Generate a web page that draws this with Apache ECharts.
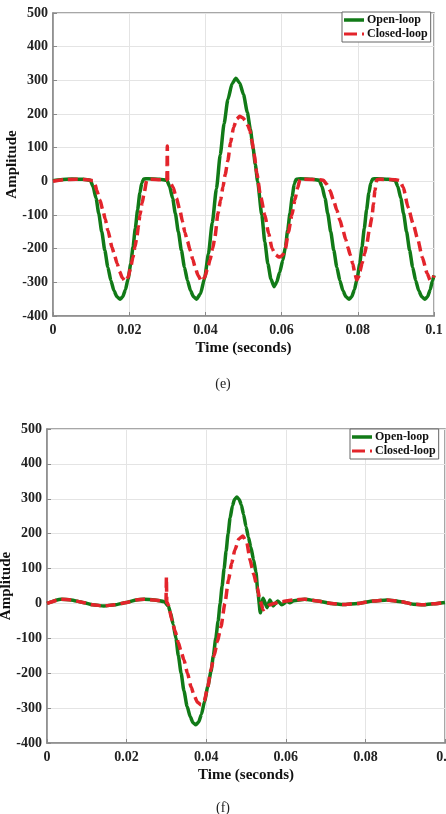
<!DOCTYPE html>
<html>
<head>
<meta charset="utf-8">
<script src="https://cdn.jsdelivr.net/npm/echarts@6/dist/echarts.min.js"></script>
<style>
  html, body { margin: 0; padding: 0; background: #fff; }
  #main { width: 446px; height: 814px; }
</style>
</head>
<body>
<div id="main"></div>
<script>
// ---- data: [time (s), amplitude] ----
var openLoopE = [
  [0, 2], [0.002, 5], [0.005, 7], [0.008, 6], [0.0098, 3], [0.0105, -15], [0.0113, -50], [0.012, -95],
  [0.0128, -150], [0.0136, -205], [0.0144, -255], [0.0152, -295], [0.016, -325], [0.0168, -343], [0.0176, -350],
  [0.0183, -343], [0.019, -322], [0.0197, -290], [0.0204, -245], [0.021, -195], [0.0216, -140], [0.0222, -85],
  [0.0228, -35], [0.0233, -5], [0.0238, 7], [0.025, 8], [0.028, 6], [0.0299, 3], [0.0306, -15], [0.0314, -50],
  [0.0321, -95], [0.0329, -150], [0.0337, -205], [0.0345, -255], [0.0353, -295], [0.0361, -325], [0.0369, -343],
  [0.0377, -350], [0.0387, -334], [0.0398, -287], [0.0408, -215], [0.0418, -123], [0.0429, -22], [0.0439, 79],
  [0.0449, 171], [0.0459, 243], [0.047, 290], [0.048, 306], [0.049, 292], [0.05, 258], [0.051, 205],
  [0.0518, 155], [0.0525, 100], [0.0531, 50], [0.0537, 0], [0.0548, -100], [0.0556, -180], [0.0564, -245],
  [0.0572, -290], [0.058, -313], [0.0587, -300], [0.0595, -270], [0.0603, -235], [0.061, -195], [0.0616, -145],
  [0.0622, -95], [0.0628, -45], [0.0633, -8], [0.0638, 6], [0.065, 8], [0.068, 6], [0.0699, 3], [0.0706, -15],
  [0.0714, -50], [0.0721, -95], [0.0729, -150], [0.0737, -205], [0.0745, -255], [0.0753, -295], [0.0761, -325],
  [0.0769, -343], [0.0777, -350], [0.0784, -343], [0.0791, -322], [0.0798, -290], [0.0805, -245], [0.0811, -195],
  [0.0817, -140], [0.0823, -85], [0.0829, -35], [0.0834, -5], [0.0839, 7], [0.085, 8], [0.088, 6], [0.0898, 3],
  [0.0905, -15], [0.0913, -50], [0.092, -95], [0.0928, -150], [0.0936, -205], [0.0944, -255], [0.0952, -295],
  [0.096, -325], [0.0968, -343], [0.0976, -350], [0.0983, -343], [0.099, -322], [0.0996, -295], [0.1, -279]
];
var closedLoopE = [
  [0, 0], [0.003, 5], [0.006, 6], [0.009, 5], [0.0105, 2], [0.011, -8], [0.0115, -27], [0.0123, -55],
  [0.0131, -86], [0.0137, -112], [0.0144, -145], [0.0155, -196], [0.0162, -222], [0.0168, -243], [0.0175, -268],
  [0.0182, -287], [0.019, -297], [0.0197, -285], [0.0203, -260], [0.021, -225], [0.0215, -196], [0.022, -166],
  [0.0224, -135], [0.0228, -101], [0.0234, -65], [0.0239, -36], [0.0246, 3], [0.0255, 6], [0.0299, 4],
  [0.03, 105], [0.0301, 4], [0.0308, -5], [0.0315, -17], [0.0324, -50], [0.0333, -86], [0.034, -120],
  [0.0346, -151], [0.0353, -178], [0.036, -205], [0.0367, -232], [0.0373, -255], [0.0381, -280], [0.039, -297],
  [0.0398, -285], [0.0405, -262], [0.0412, -234], [0.0419, -200], [0.0425, -166], [0.0433, -95], [0.044, -55],
  [0.0446, -17], [0.0452, 20], [0.0459, 62], [0.0466, 115], [0.0474, 160], [0.0482, 185], [0.049, 193],
  [0.0498, 189], [0.0505, 180], [0.0512, 165], [0.0517, 150], [0.0522, 120], [0.0528, 80], [0.0535, 24],
  [0.0545, -45], [0.0556, -100], [0.0566, -155], [0.0575, -200], [0.0584, -218], [0.0593, -225], [0.06, -222],
  [0.0605, -215], [0.061, -200], [0.0618, -150], [0.0627, -100], [0.0635, -55], [0.0642, -20], [0.0648, 5],
  [0.0655, 6], [0.07, 5], [0.071, 3], [0.0718, -8], [0.0727, -27], [0.0736, -55], [0.0745, -86], [0.0753, -115],
  [0.0761, -145], [0.0768, -172], [0.0774, -196], [0.078, -218], [0.0787, -245], [0.0792, -272], [0.0797, -293],
  [0.0802, -285], [0.0806, -266], [0.0811, -244], [0.0818, -215], [0.0824, -184], [0.083, -145], [0.0837, -107],
  [0.0841, -68], [0.0845, -27], [0.085, 5], [0.0858, 6], [0.09, 5], [0.091, 2], [0.0919, -17], [0.0932, -77],
  [0.0945, -125], [0.0958, -175], [0.0969, -225], [0.0982, -273], [0.099, -294], [0.0996, -290], [0.1, -280]
];
var openLoopF = [
  [0, 0], [0.0035, 12], [0.006, 10], [0.009, 3], [0.0115, -4], [0.0143, -7], [0.017, -4], [0.02, 3],
  [0.0225, 10], [0.0244, 12], [0.027, 10], [0.0295, 5], [0.0305, -8], [0.031, -25], [0.0317, -60],
  [0.0324, -100], [0.033, -150], [0.0337, -200], [0.0344, -250], [0.0352, -295], [0.036, -325], [0.0367, -342],
  [0.0374, -348], [0.0381, -340], [0.0388, -318], [0.0396, -280], [0.0404, -238], [0.0412, -195], [0.0418, -150],
  [0.0424, -100], [0.043, -50], [0.0435, 0], [0.044, 50], [0.0445, 100], [0.045, 150], [0.0455, 200],
  [0.046, 245], [0.0466, 280], [0.0471, 298], [0.0477, 305], [0.0483, 298], [0.0488, 283], [0.0494, 255],
  [0.05, 220], [0.0506, 190], [0.0512, 162], [0.0519, 125], [0.0525, 90], [0.053, 30], [0.0536, -27],
  [0.0543, 15], [0.0553, -12], [0.056, 10], [0.0568, -7], [0.058, 7], [0.059, -4], [0.0603, 6], [0.061, 2],
  [0.062, 8], [0.0648, 12], [0.068, 7], [0.0715, 0], [0.0744, -3], [0.078, 0], [0.082, 7], [0.0854, 10],
  [0.089, 5], [0.092, -2], [0.0945, -4], [0.097, -1], [0.1, 3]
];
var closedLoopF = [
  [0, 0], [0.0035, 12], [0.006, 10], [0.009, 3], [0.0115, -4], [0.0143, -7], [0.017, -4], [0.02, 3],
  [0.0225, 10], [0.0244, 12], [0.027, 10], [0.0299, 5], [0.03, 75], [0.0301, 5], [0.0305, -5], [0.0314, -48],
  [0.0322, -80], [0.033, -112], [0.0337, -138], [0.0344, -162], [0.0353, -200], [0.0362, -239], [0.037, -265],
  [0.0378, -283], [0.0387, -291], [0.0395, -280], [0.0403, -245], [0.0412, -190], [0.042, -150], [0.0428, -110],
  [0.0437, -67], [0.0447, 0], [0.0456, 67], [0.0464, 115], [0.0472, 153], [0.0482, 185], [0.0492, 193],
  [0.0502, 175], [0.051, 125], [0.0519, 85], [0.0528, 47], [0.0535, 10], [0.0543, -18], [0.055, -12],
  [0.0557, -5], [0.057, 0], [0.059, 5], [0.062, 10], [0.0648, 12], [0.068, 7], [0.0715, 0], [0.0744, -3],
  [0.078, 0], [0.082, 7], [0.0854, 10], [0.089, 5], [0.092, -2], [0.0945, -4], [0.097, -1], [0.1, 3]
];
var seriesNames = ['Open-loop', 'Closed-loop'];
var captions = ['(e)', '(f)'];
var timeTicks = { min: 0, max: 0.1, step: 0.02 };
var ampTicks = { min: -400, max: 500, step: 100 };

var FONT = '"Liberation Serif", "DejaVu Serif", serif';
var GREEN = '#117a17';
var RED = '#e3242b';

function xAxisFor(gridIndex) {
  return {
    gridIndex: gridIndex, type: 'value',
    min: timeTicks.min, max: timeTicks.max, interval: timeTicks.step,
    name: 'Time (seconds)', nameLocation: 'middle', nameGap: 25, nameMoveOverlap: false,
    nameTextStyle: { fontFamily: FONT, fontWeight: 'bold', fontSize: 15, color: '#111' },
    axisLine: { onZero: false, lineStyle: { color: '#8a8a8a', width: 1.5 } },
    axisTick: { inside: true, length: 4, lineStyle: { color: '#8a8a8a' } },
    axisLabel: {
      fontFamily: FONT, fontWeight: 'bold', fontSize: 14, color: '#222', margin: 7,
      hideOverlap: false, showMaxLabel: true,
      formatter: function (v) { return v === 0 ? '0' : String(+v.toFixed(2)); }
    },
    splitLine: { show: true, lineStyle: { color: '#e4e4e4', width: 1 } }
  };
}
function yAxisFor(gridIndex) {
  return {
    gridIndex: gridIndex, type: 'value',
    min: ampTicks.min, max: ampTicks.max, interval: ampTicks.step,
    name: 'Amplitude', nameLocation: 'middle', nameGap: 33, nameMoveOverlap: false,
    nameTextStyle: { fontFamily: FONT, fontWeight: 'bold', fontSize: 15, color: '#111' },
    axisLine: { show: true, onZero: false, lineStyle: { color: '#8a8a8a', width: 1.5 } },
    axisTick: { show: true, inside: true, length: 4, lineStyle: { color: '#8a8a8a' } },
    axisLabel: { fontFamily: FONT, fontWeight: 'bold', fontSize: 14, color: '#222', margin: 5 },
    splitLine: { show: true, lineStyle: { color: '#e4e4e4', width: 1 } }
  };
}
function lineSeries(name, data, idx, dashed) {
  return {
    name: name, type: 'line', xAxisIndex: idx, yAxisIndex: idx,
    data: data, showSymbol: false, symbol: 'none', animation: false,
    smooth: 0.2, smoothMonotone: 'x',
    lineStyle: dashed
      ? { color: RED, width: 3.5, type: [10, 5] }
      : { color: GREEN, width: 3.5 },
    itemStyle: { color: dashed ? RED : GREEN }
  };
}
function legendFor(left, top) {
  return {
    data: [
      { name: seriesNames[0], icon: 'rect', itemStyle: { color: GREEN } },
      { name: seriesNames[1], icon: 'path://M0,0 H13 V3 H0 Z M18,0 H20 V3 H18 Z', itemStyle: { color: RED } }
    ],
    orient: 'vertical', left: left, top: top,
    itemWidth: 20, itemHeight: 3.5, itemGap: 2, padding: [2, 3, 2, 2],
    backgroundColor: '#fff', borderColor: '#666', borderWidth: 1,
    selectedMode: false,
    textStyle: { fontFamily: FONT, fontWeight: 'bold', fontSize: 12, color: '#111', padding: [0, 0, 0, -2] }
  };
}

var chart = echarts.init(document.getElementById('main'), null, { renderer: 'canvas' });
chart.setOption({
  backgroundColor: '#fff',
  animation: false,
  title: [
    { text: captions[0], left: 'center', top: 372, textStyle: { fontFamily: FONT, fontWeight: 'normal', fontSize: 14, color: '#222' } },
    { text: captions[1], left: 'center', top: 796, textStyle: { fontFamily: FONT, fontWeight: 'normal', fontSize: 14, color: '#222' } }
  ],
  grid: [
    { left: 53, right: 12, top: 13, height: 303, outerBoundsMode: 'none', containLabel: false,
      show: true, borderColor: '#8a8a8a', borderWidth: 1.5 },
    { left: 47, right: 1, top: 429, height: 314, outerBoundsMode: 'none', containLabel: false,
      show: true, borderColor: '#8a8a8a', borderWidth: 1.5 }
  ],
  legend: [legendFor(342, 12), legendFor(350, 429)],
  xAxis: [xAxisFor(0), xAxisFor(1)],
  yAxis: [yAxisFor(0), yAxisFor(1)],
  series: [
    lineSeries(seriesNames[0], openLoopE, 0, false),
    lineSeries(seriesNames[1], closedLoopE, 0, true),
    lineSeries(seriesNames[0], openLoopF, 1, false),
    lineSeries(seriesNames[1], closedLoopF, 1, true)
  ]
});
</script>
</body>
</html>
